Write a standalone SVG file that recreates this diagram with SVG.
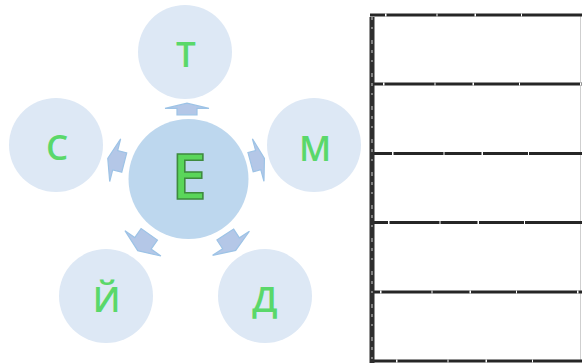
<svg xmlns="http://www.w3.org/2000/svg" xmlns:xlink="http://www.w3.org/1999/xlink" width="582" height="363" viewBox="0 0 582 363">
<style>
.outer{fill:#dde8f5}
.center{fill:#bdd7ee}
.lbl{font-family:"Open Sans","Liberation Sans",sans-serif;font-size:35px;font-weight:600;fill:#5ad86a;text-anchor:middle}
.big{font-family:"Open Sans","Liberation Sans",sans-serif;font-size:63px;font-weight:600;fill:#5ad65a;stroke:#3e8a3e;stroke-width:1.6;text-anchor:middle}
.arr{fill:#b4c7e7;stroke:#9dc3e6;stroke-width:1.2}
.hl{stroke:#262626;stroke-width:3;fill:none}
.hx{stroke:#ffffff;stroke-width:3.2;fill:none}
</style>
<defs>
<path id="arrow" d="M-10,-10 L1,-10 L1,-22 L10,0 L1,22 L1,10 L-10,10 Z" vector-effect="non-scaling-stroke"/>
</defs>
<rect width="582" height="363" fill="#ffffff"/>
<g id="connectors">
<use xlink:href="#arrow" class="arr" transform="translate(187,109) rotate(-90) scale(0.58,1)"/>
<use xlink:href="#arrow" class="arr" transform="translate(257.5,160.3) rotate(-15.2) scale(0.72,1)"/>
<use xlink:href="#arrow" class="arr" transform="translate(116,160.4) rotate(-165.6) scale(0.85,1)"/>
<use xlink:href="#arrow" class="arr" transform="translate(143.5,242.5) rotate(125.2) scale(1,1)"/>
<use xlink:href="#arrow" class="arr" transform="translate(230.5,242.5) rotate(56.8) scale(0.95,1)"/>
</g>
<g id="node-E">
<circle class="center" cx="188.5" cy="179" r="60"/>
<text class="big" x="189" y="199">Е</text>
</g>
<g id="node-T">
<circle class="outer" cx="185" cy="52" r="47"/>
<text class="lbl" x="186" y="67">Т</text>
</g>
<g id="node-M">
<circle class="outer" cx="314" cy="145" r="47"/>
<text class="lbl" x="315" y="161">М</text>
</g>
<g id="node-D">
<circle class="outer" cx="265" cy="296" r="47"/>
<text class="lbl" x="265" y="312">Д</text>
</g>
<g id="node-J">
<circle class="outer" cx="106" cy="296" r="47"/>
<text class="lbl" x="106.5" y="312">Й</text>
</g>
<g id="node-S">
<circle class="outer" cx="56" cy="145" r="47"/>
<text class="lbl" x="57" y="160">С</text>
</g>
<g id="table">
<line x1="580.5" y1="15" x2="580.5" y2="361" stroke="#cfcfcf" stroke-width="1"/>
<line class="hl" x1="370" y1="15" x2="582" y2="15"/>
<line class="hl" x1="370" y1="84" x2="582" y2="84"/>
<line class="hl" x1="370" y1="153.5" x2="582" y2="153.5"/>
<line class="hl" x1="370" y1="222.5" x2="582" y2="222.5"/>
<line class="hl" x1="370" y1="292" x2="582" y2="292"/>
<line class="hl" x1="370" y1="361" x2="582" y2="361"/>
<path class="hx" stroke-dasharray="1.5 50 1 37 1.5 45 1 60" d="M385,15 H582 M383,84 H582 M392,153.5 H582 M388,222.5 H582 M380,292 H582 M396,361 H582"/>
<line x1="372" y1="17" x2="372" y2="363" stroke="#2e2e2e" stroke-width="5"/>
<line x1="372" y1="17" x2="372" y2="363" stroke="#9a9a9a" stroke-width="1.5" stroke-dasharray="3 7 2 11 4 6"/>
</g>
</svg>
